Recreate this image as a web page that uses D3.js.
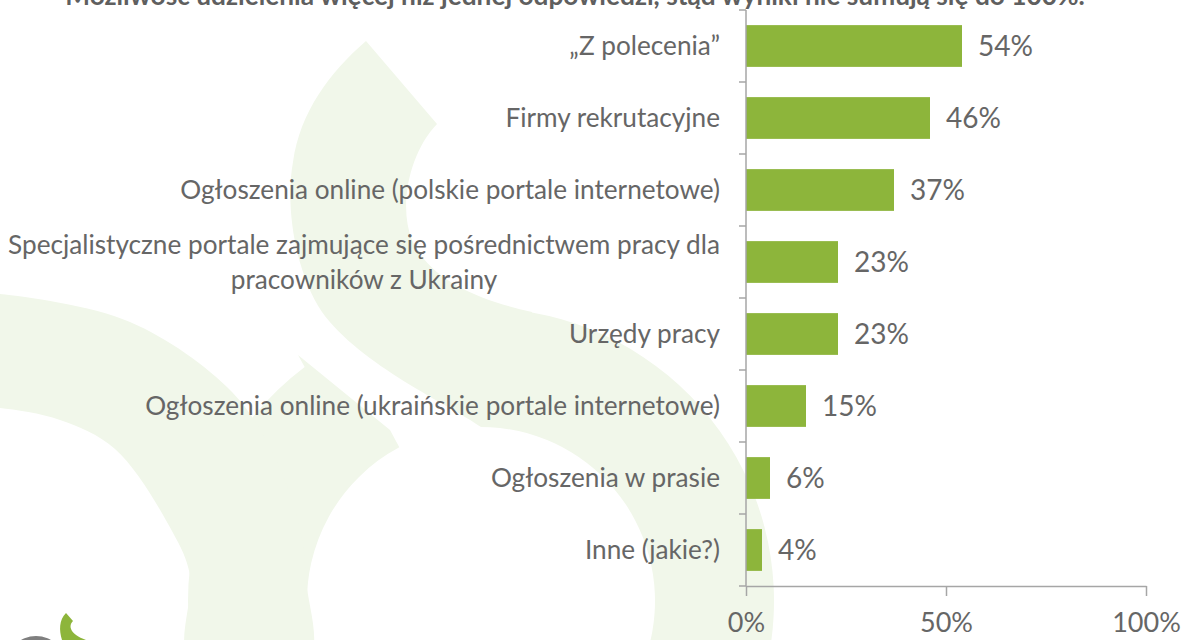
<!DOCTYPE html>
<html>
<head>
<meta charset="utf-8">
<script src="https://cdn.jsdelivr.net/npm/d3@7"></script>
<style>
  html, body { margin: 0; padding: 0; background: #ffffff; }
  svg { display: block; }
</style>
</head>
<body>
<svg id="chart" width="1184" height="640"></svg>
<script>
const categories = [
  "„Z polecenia”",
  "Firmy rekrutacyjne",
  "Ogłoszenia online (polskie portale internetowe)",
  "Specjalistyczne portale zajmujące się pośrednictwem pracy dla\npracowników z Ukrainy",
  "Urzędy pracy",
  "Ogłoszenia online (ukraińskie portale internetowe)",
  "Ogłoszenia w prasie",
  "Inne (jakie?)",
];
const values = [0.54, 0.46, 0.37, 0.23, 0.23, 0.15, 0.06, 0.04];
const xTicks = [0, 0.5, 1];
const note = "Możliwość udzielenia więcej niż jednej odpowiedzi, stąd wyniki nie sumują się do 100%.";

const barColor = "#8db53b";
const textColor = "#666666";
const axisColor = "#a6a6a6";
const bgShape = "#f1f7ea";

const svg = d3.select("#chart");
const bgG = svg.append("g");
const chartG = svg.append("g");

// faint logo-like decoration in the background
const cx = 481;
const cy = 601;
const rIn = 174;
const rOut = 293;
const deg = Math.PI / 180;

const hook = d3.path();
hook.moveTo(366, 41);
hook.lineTo(437, 124);
hook.bezierCurveTo(410, 152, 398, 205, 412, 240);
hook.bezierCurveTo(430, 280, 478, 300, 532, 312);
hook.arc(cx, cy, rOut, -80 * deg, 110 * deg, false);
hook.arc(cx, cy, rIn, 110 * deg, -90 * deg, true);
hook.bezierCurveTo(450, 405, 360, 365, 322, 312);
hook.bezierCurveTo(295, 272, 285, 205, 293, 162);
hook.bezierCurveTo(300, 112, 330, 72, 366, 41);
hook.closePath();

const tip = d3.path();
tip.moveTo(298, 355);
tip.lineTo(390, 430);
tip.arc(cx, cy, rIn, -118 * deg, -250 * deg, true);
tip.arc(cx, cy, rOut, -250 * deg, -127 * deg, false);
tip.closePath();

const smooth = d3.line().curve(d3.curveCatmullRom.alpha(0.5));
const leftShape = [
  [-20, 294], [0, 294], [130, 322], [232, 392], [276, 460], [300, 530], [306, 580],
  [308, 660], [190, 660], [190, 575], [172, 531], [115, 449], [60, 420], [0, 408], [-20, 408],
];

bgG.append("path").attr("d", hook.toString()).attr("fill", bgShape);
bgG.append("path").attr("d", tip.toString()).attr("fill", bgShape);
bgG.append("path").attr("d", smooth(leftShape) + "Z").attr("fill", bgShape);

// small logo bottom-left
bgG.append("circle").attr("cx", 36).attr("cy", 666).attr("r", 30).attr("fill", "#7f7f7f");
bgG.append("path")
  .attr("d", "M66,613 L73,621 C68,626 70,634 86,640 L62,640 C59,630 59,620 66,613 Z")
  .attr("fill", "#8db53b");

// scales
const x = d3.scaleLinear().domain([0, 1]).range([746, 1146]);
const y = d3.scaleBand().domain(categories).range([10, 586]).paddingInner(0.42).paddingOuter(0.21);
const gap = y.step() - y.bandwidth();

// note on top (cut by the page edge)
const noteText = chartG.append("text")
  .attr("x", 575)
  .attr("y", 5)
  .attr("text-anchor", "middle")
  .attr("font-family", "Lato, 'Open Sans', sans-serif")
  .attr("font-weight", "bold")
  .attr("font-size", 21)
  .attr("fill", "#5f5f5f")
  .text(note);
const nw = noteText.node().getComputedTextLength();
noteText.attr("font-size", (21 * 1020) / nw);

// bars
chartG.selectAll("rect.bar")
  .data(categories)
  .join("rect")
  .attr("class", "bar")
  .attr("x", x(0))
  .attr("y", (d) => y(d))
  .attr("width", (d, i) => x(values[i]) - x(0))
  .attr("height", y.bandwidth())
  .attr("fill", barColor);

// value labels
chartG.selectAll("text.val")
  .data(categories)
  .join("text")
  .attr("class", "val")
  .attr("x", (d, i) => x(values[i]) + 16)
  .attr("y", (d) => y(d) + y.bandwidth() / 2)
  .attr("dy", "0.36em")
  .attr("font-family", "Lato, 'Open Sans', sans-serif")
  .attr("font-size", 28)
  .attr("fill", textColor)
  .text((d, i) => d3.format(".0%")(values[i]));

// category labels
const labelG = chartG.append("g")
  .attr("font-family", "Lato, 'Open Sans', sans-serif")
  .attr("font-size", 24)
  .attr("fill", textColor);
const labels = labelG.selectAll("text")
  .data(categories)
  .join("text")
  .attr("y", (d) => y(d) + y.bandwidth() / 2)
  .attr("dy", "0.36em");
labels.each(function (d) {
  const lines = d.split("\n");
  const t = d3.select(this);
  if (lines.length === 1) {
    t.attr("x", 720).attr("text-anchor", "end").text(d);
  } else {
    lines.forEach((line, k) => {
      t.append("tspan")
        .attr("x", 364)
        .attr("text-anchor", "middle")
        .attr("dy", k === 0 ? "-0.3em" : "1.33em")
        .text(line);
    });
  }
});
// scale label font so the reference line has the reference width
const refLabel = labels.filter((d) => d === categories[2]).node();
const lw = refLabel.getComputedTextLength();
labelG.attr("font-size", (24 * 540) / lw);

// y axis line and ticks between bands
chartG.append("line")
  .attr("x1", x(0)).attr("x2", x(0))
  .attr("y1", y.range()[0]).attr("y2", y.range()[1])
  .attr("stroke", axisColor).attr("stroke-width", 1.5);
const bounds = categories.map((d) => y(d) - gap / 2).concat([y.range()[1]]);
chartG.selectAll("line.ytick")
  .data(bounds)
  .join("line")
  .attr("class", "ytick")
  .attr("x1", x(0) - 7).attr("x2", x(0))
  .attr("y1", (d) => d).attr("y2", (d) => d)
  .attr("stroke", axisColor).attr("stroke-width", 1.5);

// x axis
const xAxis = chartG.append("g")
  .attr("transform", `translate(0,${y.range()[1]})`)
  .call(d3.axisBottom(x).tickValues(xTicks).tickFormat(d3.format(".0%")).tickSize(10).tickSizeOuter(0).tickPadding(17));
xAxis.select(".domain").attr("stroke", axisColor).attr("stroke-width", 1.5);
xAxis.selectAll(".tick line").attr("stroke", axisColor).attr("stroke-width", 1.5);
xAxis.selectAll(".tick text")
  .attr("font-family", "Lato, 'Open Sans', sans-serif")
  .attr("font-size", 27)
  .attr("fill", textColor);
</script>
</body>
</html>
